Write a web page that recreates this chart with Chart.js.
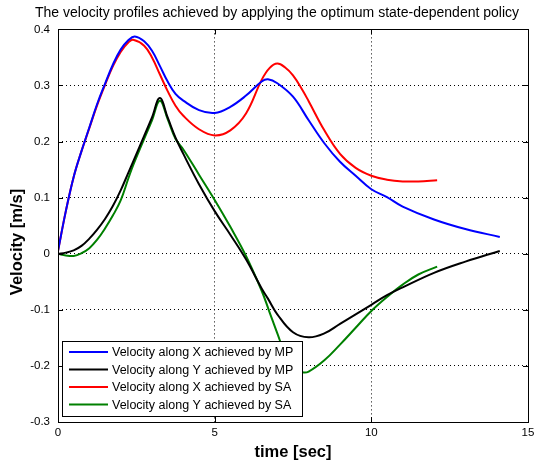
<!DOCTYPE html>
<html>
<head>
<meta charset="utf-8">
<script src="https://cdn.jsdelivr.net/npm/chart.js"></script>
<style>
  body { margin: 0; background: #fff; }
</style>
</head>
<body>
<canvas id="velocity-chart" width="549" height="465"></canvas>
<script>
// time samples (sec) and velocities (m/s)
const timeMP = [0, 0.25, 0.5, 0.75, 1, 1.25, 1.5, 1.75, 2, 2.25, 2.45, 2.75, 3, 3.25, 3.5, 3.75, 4, 4.5, 5, 5.5, 6, 6.5, 6.7, 7, 7.5, 8, 8.5, 9, 9.5, 10, 10.5, 11, 12, 13, 14.1];
const velXMP = [0.005, 0.076, 0.137, 0.183, 0.225, 0.267, 0.303, 0.337, 0.364, 0.381, 0.3875, 0.379, 0.362, 0.335, 0.307, 0.285, 0.273, 0.256, 0.251, 0.262, 0.282, 0.307, 0.311, 0.304, 0.28, 0.238, 0.197, 0.164, 0.139, 0.115, 0.101, 0.084, 0.061, 0.044, 0.03];
const velYMP = [0, 0.002, 0.006, 0.014, 0.027, 0.043, 0.062, 0.085, 0.113, 0.145, 0.171, 0.21, 0.243, 0.2775, 0.243, 0.207, 0.178, 0.124, 0.076, 0.034, -0.01, -0.062, -0.08, -0.108, -0.14, -0.149, -0.142, -0.125, -0.108, -0.091, -0.074, -0.06, -0.034, -0.014, 0.005];

const timeSA = [0, 0.25, 0.5, 0.75, 1, 1.25, 1.5, 1.75, 2, 2.25, 2.4, 2.75, 3, 3.25, 3.5, 3.75, 4, 4.5, 5, 5.5, 6, 6.5, 6.75, 7, 7.25, 7.5, 7.8, 8, 8.5, 9, 9.5, 10, 10.5, 11, 11.5, 12.1];
const velXSA = [0.005, 0.076, 0.137, 0.183, 0.224, 0.265, 0.301, 0.334, 0.36, 0.377, 0.3816, 0.371, 0.35, 0.32, 0.29, 0.264, 0.246, 0.222, 0.211, 0.22, 0.25, 0.31, 0.331, 0.339, 0.332, 0.318, 0.292, 0.272, 0.22, 0.178, 0.153, 0.139, 0.132, 0.129, 0.129, 0.131];
const velYSA = [0, -0.003, -0.004, 0.001, 0.01, 0.025, 0.045, 0.068, 0.095, 0.135, 0.158, 0.205, 0.238, 0.273, 0.24, 0.205, 0.186, 0.141, 0.096, 0.048, -0.004, -0.066, -0.104, -0.142, -0.178, -0.2, -0.211, -0.21, -0.19, -0.162, -0.132, -0.102, -0.077, -0.055, -0.037, -0.023];

const xTicks = [0, 5, 10, 15];
const yTicks = [-0.3, -0.2, -0.1, 0, 0.1, 0.2, 0.3, 0.4];

const FONT = '"Liberation Sans", Arial, Helvetica, sans-serif';
const TITLE = 'The velocity profiles achieved by applying the optimum state-dependent policy';

function pairs(t, v) {
  return t.map((x, i) => ({ x: x, y: v[i] }));
}

// solid box round the axes, short inward ticks, plus the title and y label
const axesBox = {
  id: 'axesBox',
  afterDatasetsDraw(chart) {
    const ctx = chart.ctx;
    const a = chart.chartArea;
    const sx = chart.scales.x, sy = chart.scales.y;
    ctx.save();
    ctx.strokeStyle = '#000';
    ctx.lineWidth = 1;
    ctx.strokeRect(Math.round(a.left) + 0.5, Math.round(a.top) + 0.5,
      Math.round(a.right - a.left), Math.round(a.bottom - a.top));
    ctx.beginPath();
    xTicks.forEach(v => {
      const px = Math.round(sx.getPixelForValue(v)) + 0.5;
      ctx.moveTo(px, a.bottom); ctx.lineTo(px, a.bottom - 5);
      ctx.moveTo(px, a.top); ctx.lineTo(px, a.top + 5);
    });
    yTicks.forEach(v => {
      const py = Math.round(sy.getPixelForValue(v)) + 0.5;
      ctx.moveTo(a.left, py); ctx.lineTo(a.left + 5, py);
      ctx.moveTo(a.right, py); ctx.lineTo(a.right - 5, py);
    });
    ctx.stroke();

    ctx.fillStyle = '#000';
    ctx.textAlign = 'center';
    ctx.textBaseline = 'middle';
    ctx.font = '14px ' + FONT;
    ctx.fillText(TITLE, 277, 13);

    // y axis label, sits a bit below the middle in the original
    ctx.translate(17, 242);
    ctx.rotate(-Math.PI / 2);
    ctx.font = 'bold 16.5px ' + FONT;
    ctx.fillText('Velocity [m/s]', 0, 0);
    ctx.restore();
  }
};

// legend box drawn inside the plot, bottom left
const boxLegend = {
  id: 'boxLegend',
  afterDraw(chart) {
    const ctx = chart.ctx;
    const x0 = 62, y0 = 341, w = 240, h = 75;
    ctx.save();
    ctx.fillStyle = '#fff';
    ctx.fillRect(x0, y0, w, h);
    ctx.strokeStyle = '#000';
    ctx.lineWidth = 1;
    ctx.strokeRect(x0 + 0.5, y0 + 0.5, w, h);
    ctx.font = '12.5px ' + FONT;
    ctx.textBaseline = 'middle';
    chart.data.datasets.forEach((ds, i) => {
      const y = y0 + 11 + i * 17.5;
      ctx.strokeStyle = ds.borderColor;
      ctx.lineWidth = 2;
      ctx.beginPath();
      ctx.moveTo(x0 + 7, y);
      ctx.lineTo(x0 + 46, y);
      ctx.stroke();
      ctx.fillStyle = '#000';
      ctx.fillText(ds.label, x0 + 50, y + 1);
    });
    ctx.restore();
  }
};

new Chart(document.getElementById('velocity-chart'), {
  type: 'line',
  data: {
    datasets: [{
        label: 'Velocity along X achieved by MP',
        data: pairs(timeMP, velXMP),
        borderColor: '#0000ff'
      }, {
        label: 'Velocity along Y achieved by MP',
        data: pairs(timeMP, velYMP),
        borderColor: '#000000'
      }, {
        label: 'Velocity along X achieved by SA',
        data: pairs(timeSA, velXSA),
        borderColor: '#ff0000'
      }, {
        label: 'Velocity along Y achieved by SA',
        data: pairs(timeSA, velYSA),
        borderColor: '#008000'
      }
    ]
  },
  options: {
    responsive: false,
    animation: false,
    layout: { padding: { left: 0, right: 21, top: 29.4, bottom: 0 } },
    elements: {
      point: { radius: 0 },
      line: { borderWidth: 2, fill: false, tension: 0.4 }
    },
    plugins: {
      legend: { display: false },
      tooltip: { enabled: false },
      title: { display: false }
    },
    scales: {
      x: {
        type: 'linear',
        min: 0,
        max: 15,
        afterBuildTicks: s => { s.ticks = xTicks.map(v => ({ value: v })); },
        afterFit: s => { s.height = 43; },
        grid: { color: '#000', lineWidth: 1, drawTicks: false },
        border: { display: false, dash: [1, 3] },
        ticks: { color: '#000', padding: 4, maxRotation: 0, font: { family: FONT, size: 11.5 } },
        title: {
          display: true,
          text: 'time [sec]',
          color: '#000',
          font: { family: FONT, size: 16.5, weight: 'bold' },
          padding: { top: 0, bottom: 3 }
        }
      },
      y: {
        min: -0.3,
        max: 0.4,
        afterBuildTicks: s => { s.ticks = yTicks.map(v => ({ value: v })); },
        afterFit: s => { s.width = 58; },
        grid: { color: '#000', lineWidth: 1, drawTicks: false },
        border: { display: false, dash: [1, 3] },
        ticks: { color: '#000', padding: 8, font: { family: FONT, size: 11.5 } }
      }
    }
  },
  plugins: [axesBox, boxLegend]
});
</script>
</body>
</html>
